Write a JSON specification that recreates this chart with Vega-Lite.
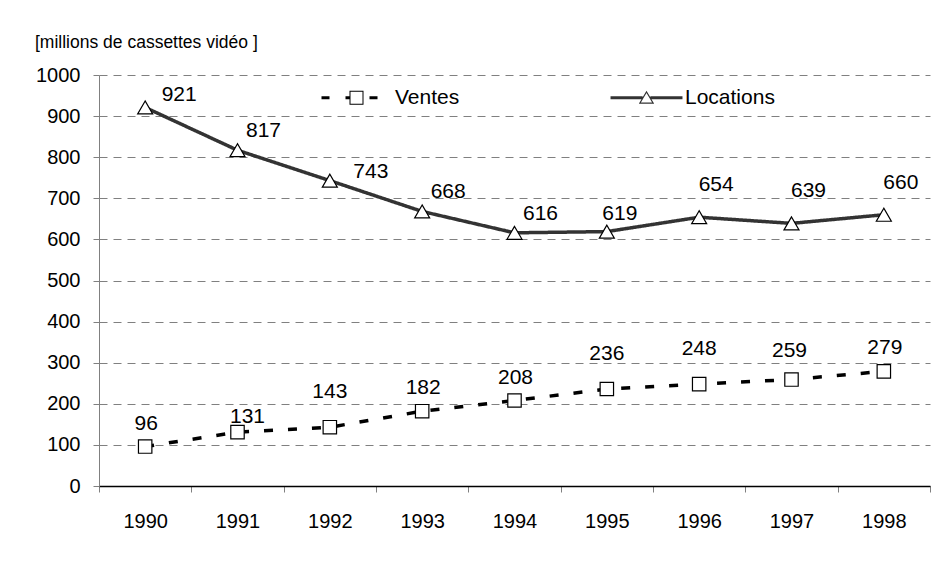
{
  "$schema": "https://vega.github.io/schema/vega-lite/v6.json",
  "width": 831,
  "height": 411,
  "autosize": "none",
  "padding": {"left": 99, "top": 75, "right": 11, "bottom": 76},
  "title": {
    "text": "[millions de cassettes vidéo ]",
    "anchor": "start",
    "frame": "group",
    "dx": -64,
    "dy": 20,
    "fontSize": 17.5,
    "fontWeight": "normal",
    "font": "Liberation Sans",
    "color": "black",
    "baseline": "alphabetic",
    "offset": 20
  },
  "data": {
    "values": [
      {"year": "1990", "series": "Ventes", "value": 96},
      {"year": "1991", "series": "Ventes", "value": 131},
      {"year": "1992", "series": "Ventes", "value": 143},
      {"year": "1993", "series": "Ventes", "value": 182},
      {"year": "1994", "series": "Ventes", "value": 208},
      {"year": "1995", "series": "Ventes", "value": 236},
      {"year": "1996", "series": "Ventes", "value": 248},
      {"year": "1997", "series": "Ventes", "value": 259},
      {"year": "1998", "series": "Ventes", "value": 279},
      {"year": "1990", "series": "Locations", "value": 921},
      {"year": "1991", "series": "Locations", "value": 817},
      {"year": "1992", "series": "Locations", "value": 743},
      {"year": "1993", "series": "Locations", "value": 668},
      {"year": "1994", "series": "Locations", "value": 616},
      {"year": "1995", "series": "Locations", "value": 619},
      {"year": "1996", "series": "Locations", "value": 654},
      {"year": "1997", "series": "Locations", "value": 639},
      {"year": "1998", "series": "Locations", "value": 660}
    ]
  },
  "encoding": {
    "x": {
      "field": "year",
      "type": "ordinal",
      "bandPosition": 0.5,
      "scale": {"type": "band", "paddingInner": 0, "paddingOuter": 0},
      "axis": {
        "title": null,
        "labelAngle": 0,
        "tickBand": "extent",
        "domainColor": "black",
        "domainWidth": 1.5,
        "tickColor": "#808080",
        "tickSize": 6,
        "labelPadding": 19,
        "labelFontSize": 20,
        "labelColor": "black",
        "grid": false
      }
    },
    "y": {
      "field": "value",
      "type": "quantitative",
      "scale": {"domain": [0, 1000], "nice": false},
      "axis": {
        "title": null,
        "format": "d",
        "values": [0, 100, 200, 300, 400, 500, 600, 700, 800, 900, 1000],
        "grid": true,
        "gridDash": [8, 6],
        "gridColor": "#808080",
        "gridWidth": 1,
        "domainColor": "#808080",
        "tickColor": "#808080",
        "tickSize": 6,
        "labelPadding": 13,
        "labelFontSize": 20,
        "labelColor": "black"
      }
    }
  },
  "layer": [
    {
      "mark": {"type": "line", "strokeWidth": 3.5},
      "encoding": {
        "color": {
          "field": "series",
          "type": "nominal",
          "scale": {"domain": ["Ventes", "Locations"], "range": ["#000000", "#333333"]},
          "legend": {
            "orient": "none",
            "legendX": 247,
            "legendY": 12,
            "direction": "horizontal",
            "title": null,
            "symbolSize": 196,
            "labelFontSize": 21,
            "labelFont": "Liberation Sans",
            "labelColor": "black",
            "labelOffset": 28,
            "columnPadding": 150,
            "padding": 0,
            "encode": {
              "symbols": {
                "update": {
                  "shape": {"signal": "datum.value === 'Ventes' ? 'M-5,-0.214H-3.857V0.214H-5Z M-1.571,-0.214H-1V0.214H-1.571Z M-1,-1H1V1H-1Z M-0.857,-0.857V0.857H0.857V-0.857Z M1.857,-0.214H3V0.214H1.857Z' : 'M-5.14,-0.214H-0.55V0.214H-5.14Z M0.55,-0.214H5.14V0.214H0.55Z M0,-1L1.1,0.85L-1.1,0.85Z M0,-0.667L-0.801,0.68L0.801,0.68Z'"},
                  "fill": {"signal": "datum.value === 'Ventes' ? '#000000' : '#333333'"},
                  "stroke": {"value": "transparent"},
                  "strokeWidth": {"value": 0},
                  "opacity": {"value": 1}
                }
              }
            }
          }
        },
        "strokeDash": {
          "field": "series",
          "type": "nominal",
          "scale": {"domain": ["Ventes", "Locations"], "range": [[9, 15], [1, 0]]},
          "legend": null
        }
      }
    },
    {
      "transform": [{"filter": "datum.series === 'Ventes'"}],
      "mark": {"type": "point", "shape": "square", "size": 180, "filled": true, "fill": "white", "stroke": "black", "strokeWidth": 1.2, "opacity": 1}
    },
    {
      "transform": [{"filter": "datum.series === 'Locations'"}],
      "mark": {"type": "point", "shape": "triangle-up", "size": 225, "filled": true, "fill": "white", "stroke": "black", "strokeWidth": 1.2, "opacity": 1}
    },
    {
      "transform": [{"filter": "datum.series === 'Locations' && datum.year === '1990'"}],
      "mark": {"type": "text", "fontSize": 21, "color": "black", "dx": 34, "dy": -12},
      "encoding": {"text": {"field": "value", "type": "quantitative"}}
    },
    {
      "transform": [{"filter": "datum.series === 'Locations' && datum.year === '1992'"}],
      "mark": {"type": "text", "fontSize": 21, "color": "black", "dx": 41, "dy": -9},
      "encoding": {"text": {"field": "value", "type": "quantitative"}}
    },
    {
      "transform": [{"filter": "datum.series === 'Locations' && indexof(['1991','1993','1994'], datum.year) >= 0"}],
      "mark": {"type": "text", "fontSize": 21, "color": "black", "dx": 26, "dy": -19},
      "encoding": {"text": {"field": "value", "type": "quantitative"}}
    },
    {
      "transform": [{"filter": "datum.series === 'Locations' && datum.year === '1995'"}],
      "mark": {"type": "text", "fontSize": 21, "color": "black", "dx": 13, "dy": -18},
      "encoding": {"text": {"field": "value", "type": "quantitative"}}
    },
    {
      "transform": [{"filter": "datum.series === 'Locations' && indexof(['1996','1997','1998'], datum.year) >= 0"}],
      "mark": {"type": "text", "fontSize": 21, "color": "black", "dx": 17, "dy": -32},
      "encoding": {"text": {"field": "value", "type": "quantitative"}}
    },
    {
      "transform": [{"filter": "datum.series === 'Ventes' && indexof(['1990','1993','1994','1998'], datum.year) >= 0"}],
      "mark": {"type": "text", "fontSize": 21, "color": "black", "dx": 1, "dy": -23},
      "encoding": {"text": {"field": "value", "type": "quantitative"}}
    },
    {
      "transform": [{"filter": "datum.series === 'Ventes' && datum.year === '1991'"}],
      "mark": {"type": "text", "fontSize": 21, "color": "black", "dx": 10, "dy": -15},
      "encoding": {"text": {"field": "value", "type": "quantitative"}}
    },
    {
      "transform": [{"filter": "datum.series === 'Ventes' && indexof(['1992','1995','1996'], datum.year) >= 0"}],
      "mark": {"type": "text", "fontSize": 21, "color": "black", "dx": 0, "dy": -35},
      "encoding": {"text": {"field": "value", "type": "quantitative"}}
    },
    {
      "transform": [{"filter": "datum.series === 'Ventes' && datum.year === '1997'"}],
      "mark": {"type": "text", "fontSize": 21, "color": "black", "dx": -2, "dy": -29},
      "encoding": {"text": {"field": "value", "type": "quantitative"}}
    }
  ],
  "config": {
    "font": "Liberation Sans",
    "view": {"stroke": null},
    "background": "white"
  }
}
